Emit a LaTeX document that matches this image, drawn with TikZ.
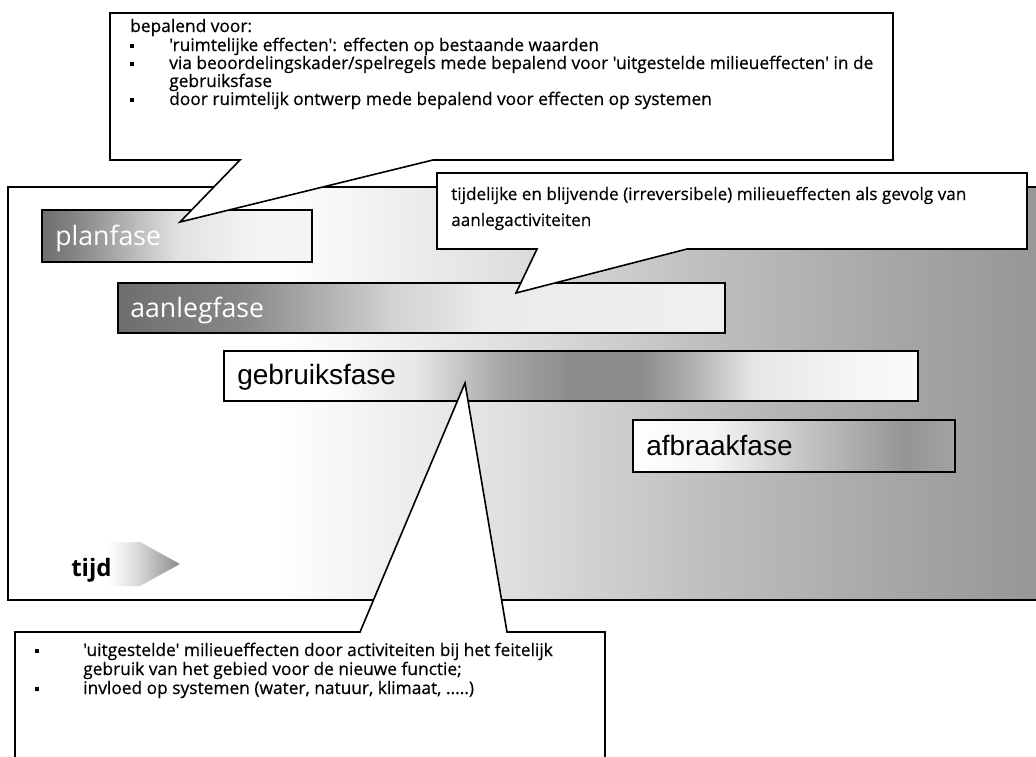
\documentclass[tikz,border=0pt]{standalone}
\usepackage{fontspec}
\newfontfamily\osans{Open Sans}
\newfontfamily\osanst{Open Sans}[FakeBold=0.5]
\newfontfamily\arialf{Liberation Sans}

\pgfdeclarehorizontalshading{bgsh}{100bp}{color(0bp)=(white); color(25bp)=(white); color(38bp)=(white); color(48.7bp)=(black!12); color(58.4bp)=(black!25); color(68bp)=(black!35); color(74.6bp)=(black!41); color(100bp)=(black!41)}
\pgfdeclarehorizontalshading{plansh}{100bp}{color(0bp)=(black!57); color(25bp)=(black!57); color(31bp)=(black!48); color(50bp)=(black!12); color(62.5bp)=(black!5); color(75bp)=(black!4); color(100bp)=(black!4)}
\pgfdeclarehorizontalshading{aansh}{100bp}{color(0bp)=(black!57); color(25bp)=(black!57); color(35bp)=(black!47); color(47.5bp)=(black!18); color(55bp)=(black!8); color(75bp)=(black!6); color(100bp)=(black!6)}
\pgfdeclarehorizontalshading{gebsh}{100bp}{color(0bp)=(white); color(25bp)=(white); color(32bp)=(white); color(39bp)=(black!10); color(45bp)=(black!35); color(50bp)=(black!45); color(55bp)=(black!45); color(59bp)=(black!30); color(63bp)=(black!10); color(70bp)=(black!4); color(75bp)=(black!2); color(100bp)=(black!2)}
\pgfdeclarehorizontalshading{afbsh}{100bp}{color(0bp)=(white); color(25bp)=(white); color(37.5bp)=(black!4); color(52.5bp)=(black!24); color(67.5bp)=(black!42); color(75bp)=(black!36); color(100bp)=(black!36)}
\pgfdeclarehorizontalshading{tijdsh}{100bp}{color(0bp)=(white); color(25bp)=(white); color(42.5bp)=(black!12); color(75bp)=(black!45); color(100bp)=(black!45)}

\newcommand\blt{\rule[2pt]{3pt}{3.6pt}}
\newcommand\bl[1]{\makebox[#1][l]{\blt}}

\begin{document}
\begin{tikzpicture}[x=0.75pt,y=-0.75pt,
  frameline/.style={line width=1.4pt, draw=black},
  bar/.style={line width=1.4pt, draw=black, shade},
  callout/.style={line width=1.2pt, draw=black, fill=white, line join=miter},
  lbl/.style={inner sep=0pt, anchor=base west},
  note/.style={lbl, font=\osanst\fontsize{13}{15}\selectfont},
  phaseA/.style={lbl, text=white, font=\osans\fontsize{20}{24}\selectfont},
  phaseB/.style={lbl, text=black, font=\arialf\fontsize{21}{25}\selectfont}]
\useasboundingbox (0,0) rectangle (1036,757);
\clip (0,0) rectangle (1036,757);
\fill[white] (0,0) rectangle (1036,757);

% main frame
\path[shade, shading=bgsh] (8,187) rectangle (1045,600);
\draw[frameline] (1045,187) -- (8,187) -- (8,600) -- (1045,600);

% phase bars
\path[bar, shading=plansh] (42,210) rectangle (312,262);
\path[bar, shading=aansh] (118,283) rectangle (725,333);
\path[bar, shading=gebsh] (224,351) rectangle (918,401);
\path[bar, shading=afbsh] (633,420) rectangle (955,472);

\node[phaseA] (planfase) at (55,245) {planfase};
\node[phaseA] (aanlegfase) at (130,317) {aanlegfase};
\node[phaseB] (gebruiksfase) at (237,384) {gebruiksfase};
\node[phaseB] (afbraakfase) at (646,455) {afbraakfase};

% time arrow
\path[shade, shading=tijdsh] (108,542) -- (140,542) -- (180,564) -- (140,586) -- (108,586) -- cycle;
\node[lbl, font=\osans\bfseries\fontsize{18}{20}\selectfont] (tijd) at (71,576) {tijd};

% tips of callouts
\coordinate (tipA) at (180,222);
\coordinate (tipB) at (516,293);
\coordinate (tipC) at (465,383);

% callouts
\path[callout] (110,13) -- (893,13) -- (893,160) -- (433,160) -- (tipA) -- (240,160) -- (110,160) -- cycle;
\path[callout] (437,173) -- (1027,173) -- (1027,249) -- (687,249) -- (tipB) -- (537,249) -- (437,249) -- cycle;
\path[callout] (15,632) -- (360,632) -- (tipC) -- (507,632) -- (605,632) -- (605,790) -- (15,790) -- cycle;

% top callout text
\node[note] (t0) at (130,32) {bepalend voor:};
\node[note] (t1) at (130,51) {\bl{29.25pt}'ruimtelijke effecten': effecten op bestaande waarden};
\node[note] (t2) at (130,69) {\bl{29.25pt}via beoordelingskader/spelregels mede bepalend voor 'uitgestelde milieueffecten' in de};
\node[note] (t3) at (169,87) {gebruiksfase};
\node[note] (t4) at (130,105) {\bl{29.25pt}door ruimtelijk ontwerp mede bepalend voor effecten op systemen};

% middle callout text
\node[note, font=\osanst\fontsize{12.85}{15}\selectfont] (m1) at (451,200) {tijdelijke en blijvende (irreversibele) milieueffecten als gevolg van};
\node[note, font=\osanst\fontsize{12.85}{15}\selectfont] (m2) at (451,226) {aanlegactiviteiten};

% bottom callout text
\node[note] (b1) at (35,656) {\bl{36pt}'uitgestelde' milieueffecten door activiteiten bij het feitelijk};
\node[note] (b2) at (83,675) {gebruik van het gebied voor de nieuwe functie;};
\node[note] (b3) at (35,694) {\bl{36pt}invloed op systemen (water, natuur, klimaat, .....)};
\end{tikzpicture}
\end{document}
